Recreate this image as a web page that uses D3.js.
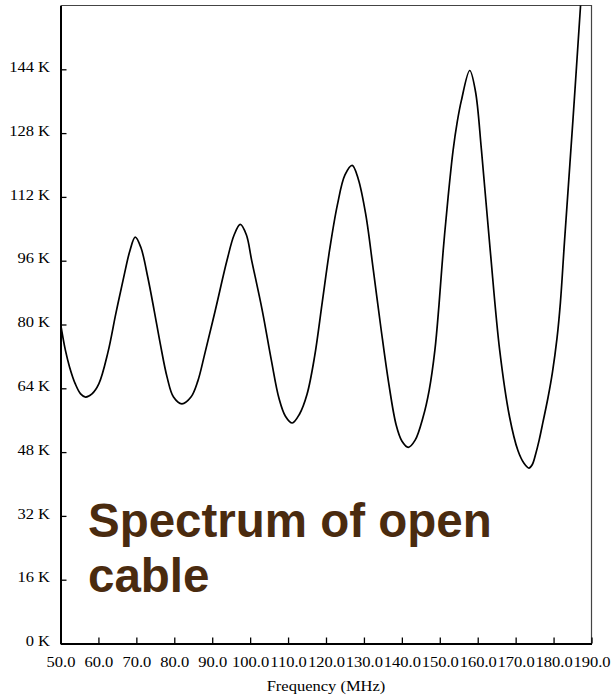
<!DOCTYPE html>
<html>
<head>
<meta charset="utf-8">
<script src="https://cdn.jsdelivr.net/npm/d3@7"></script>
<style>
  html, body { margin: 0; padding: 0; background: #fff; }
  svg { display: block; }
  .tick-label { font-family: "Liberation Serif", "Times New Roman", serif; font-size: 14px; fill: #000; }
</style>
</head>
<body>
<svg id="chart" width="611" height="697"></svg>
<script>
// Measured spectrum of an open-ended cable
const freqMHz = [
  50.0, 51.3, 52.4, 53.9, 55.3, 56.6, 58.3, 60.1, 62.5, 64.6, 66.7, 68.3, 69.7,
  71.2, 73.0, 74.7, 76.3, 78.1, 79.8, 82.0,
  84.4, 86.2, 88.0, 90.8, 93.9, 95.8, 97.4,
  99.0, 100.4, 103.2, 105.6, 107.6, 109.3, 111.1,
  113.0, 115.0, 117.0, 119.0, 121.0, 123.0, 125.0, 126.9,
  128.5, 130.5, 132.5, 134.5, 136.5, 138.5, 140.0, 141.7,
  143.5, 145.6, 147.2, 148.7, 149.8, 150.9, 152.2, 153.5, 154.6, 155.7, 157.9,
  159.4, 161.0, 163.3, 165.8, 168.4, 170.6, 172.2, 173.5,
  174.4, 175.3, 176.2, 177.2, 178.5, 179.7, 180.9, 181.8, 182.9, 185.1, 187.1, 188.2
];
const tempK = [ // thousands of K
  80.3, 73.5, 69.3, 65.1, 62.6, 61.8, 62.6, 65.1, 73.0, 82.8, 92.0, 98.5, 101.9,
  99.3, 91.9, 83.5, 75.2, 66.8, 61.8, 60.1,
  61.8, 65.8, 72.5, 83.5, 96.1, 102.5, 105.1,
  102.5, 96.1, 83.5, 71.0, 61.5, 57.0, 55.3,
  57.5, 62.5, 72.0, 85.5, 99.0, 110.0, 117.5, 119.9,
  116.5, 107.5, 93.5, 79.0, 65.5, 54.8, 50.8, 49.2,
  51.0, 56.8, 63.5, 73.5, 85.0, 98.6, 112.0, 123.6, 130.8, 136.2, 143.7,
  138.5, 123.6, 98.6, 73.5, 56.8, 48.4, 45.2, 44.0,
  44.9, 47.6, 51.0, 55.5, 61.5, 68.0, 76.5, 85.5, 101.1, 131.2, 159.8, 176.0
];
const xTickValues = [50, 60, 70, 80, 90, 100, 110, 120, 130, 140, 150, 160, 170, 180, 190];
const yTickValues = [0, 16, 32, 48, 64, 80, 96, 112, 128, 144];
const xTitle = "Frequency (MHz)";
const noteLines = ["Spectrum of open", "cable"];

const svg = d3.select("#chart");
const plot = { left: 60.5, right: 591.5, top: 5.5, bottom: 643.5 };
const stretch = 1.18; // the labels are drawn slightly widened

const x = d3.scaleLinear().domain([50, 190]).range([plot.left, plot.right]);
const y = d3.scaleLinear().domain([0, 160]).range([plot.bottom, plot.top]);

svg.append("rect").attr("width", 611).attr("height", 697).attr("fill", "#fff");

// top and right frame
svg.append("path")
  .attr("d", `M${plot.left},${plot.top}H${plot.right}V${plot.bottom}`)
  .attr("fill", "none").attr("stroke", "#444").attr("stroke-width", 1.2);

// clip so the curve stops at the frame
svg.append("clipPath").attr("id", "plot-clip")
  .append("rect")
  .attr("x", plot.left).attr("y", plot.top)
  .attr("width", plot.right - plot.left).attr("height", plot.bottom - plot.top);

const data = freqMHz.map((f, i) => ({ f, v: tempK[i] }));
const line = d3.line()
  .x(d => x(d.f))
  .y(d => y(d.v))
  .curve(d3.curveCatmullRom.alpha(0.5));

svg.append("path")
  .datum(data)
  .attr("clip-path", "url(#plot-clip)")
  .attr("d", line)
  .attr("fill", "none")
  .attr("stroke", "#000")
  .attr("stroke-width", 1.7)
  .attr("stroke-linejoin", "round");

// x axis: ticks point up into the plot
const xAxis = d3.axisBottom(x)
  .tickValues(xTickValues)
  .tickSizeInner(-6).tickSizeOuter(0)
  .tickFormat(d3.format(".1f"));
const gx = svg.append("g").attr("transform", `translate(0,${plot.bottom})`).call(xAxis);
gx.select(".domain").attr("stroke", "#000").attr("stroke-width", 2);
gx.selectAll(".tick line").attr("stroke", "#000").attr("stroke-width", 1.3);
gx.selectAll(".tick text")
  .attr("class", "tick-label")
  .attr("font-family", null).attr("font-size", null)
  .attr("y", 0).attr("dy", null)
  .attr("transform", `translate(0,23.5) scale(${stretch},1)`);

// y axis: ticks point right into the plot
const yAxis = d3.axisLeft(y)
  .tickValues(yTickValues)
  .tickSizeInner(-6).tickSizeOuter(0)
  .tickFormat(d => `${d} K`);
const gy = svg.append("g").attr("transform", `translate(${plot.left},0)`).call(yAxis);
gy.select(".domain").attr("stroke", "#000").attr("stroke-width", 2);
gy.selectAll(".tick line").attr("stroke", "#000").attr("stroke-width", 1.3);
gy.selectAll(".tick text")
  .attr("class", "tick-label")
  .attr("font-family", null).attr("font-size", null)
  .attr("x", 0).attr("dy", "0.15em")
  .attr("transform", `translate(-10.5,0) scale(${stretch},1)`);

// axis title
svg.append("text")
  .attr("class", "tick-label")
  .attr("text-anchor", "middle")
  .attr("font-size", "13.5px")
  .attr("transform", `translate(${(plot.left + plot.right) / 2},691) scale(${stretch},1)`)
  .text(xTitle);

// annotation
const note = svg.append("text")
  .attr("font-family", "'Liberation Sans', Arial, sans-serif")
  .attr("font-weight", "bold")
  .attr("font-size", "47.5px")
  .attr("fill", "#4a2b0f");
noteLines.forEach((t, i) => {
  note.append("tspan").attr("x", 88).attr("y", 537 + i * 55).text(t);
});
</script>
</body>
</html>
